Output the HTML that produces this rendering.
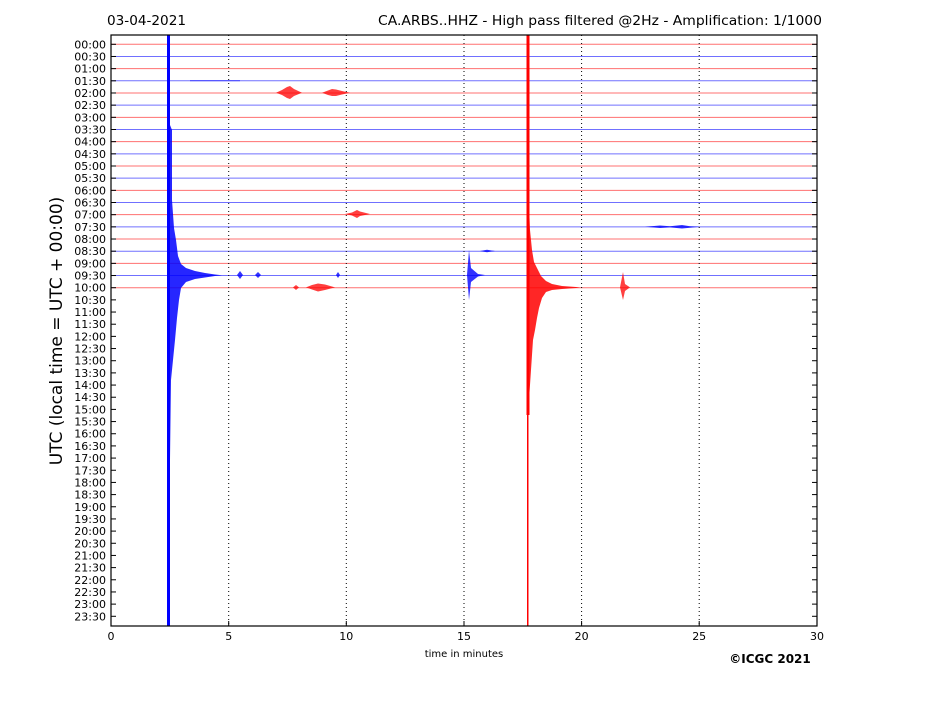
<!DOCTYPE html>
<html><head><meta charset="utf-8"><style>
html,body{margin:0;padding:0;background:#fff;}
svg text{font-family:"DejaVu Sans","Liberation Sans",sans-serif;fill:#000;}
</style></head><body>
<svg width="927" height="696" viewBox="0 0 927 696" xmlns="http://www.w3.org/2000/svg">
<rect width="927" height="696" fill="#fff"/>
<text x="107" y="25" font-size="13" textLength="79" lengthAdjust="spacingAndGlyphs">03-04-2021</text>
<text x="378" y="25" font-size="13.5" textLength="444" lengthAdjust="spacingAndGlyphs">CA.ARBS..HHZ - High pass filtered @2Hz - Amplification: 1/1000</text>
<text transform="translate(62,331) rotate(-90)" font-size="17" text-anchor="middle">UTC (local time = UTC + 00:00)</text>
<g id="rows" stroke-width="1"></g>
<g stroke="#000" stroke-width="1" stroke-dasharray="1,3">
<line x1="228.7" y1="35" x2="228.7" y2="626"/>
<line x1="346.3" y1="35" x2="346.3" y2="626"/>
<line x1="464" y1="35" x2="464" y2="626"/>
<line x1="581.6" y1="35" x2="581.6" y2="626"/>
<line x1="699.2" y1="35" x2="699.2" y2="626"/>
</g>
<g fill="#f00" stroke="none" opacity="0.75">
<polygon points="276,92.7 282,90 287,87 290,86 294,89 302,92.7 294,96 290,99 287,98 282,95"/>
<polygon points="322,92.7 328,90.5 332,89 336,89.5 342,91 350,92.7 342,94.5 336,96 332,96 328,95"/>
<polygon points="345,214 352,212.5 357,210 360,211.5 370,214 360,216 357,218 352,215.5"/>
<polygon points="306,287.4 312,285 318,283.5 325,284.5 335,287.4 325,290 318,291.5 312,289.5"/>
<polygon points="293,287.4 296,285 299,287.4 296,290"/>
<polygon points="620,287.4 623,272 625,284 630,287.4 625,291 623,300"/>
</g>
<g fill="#00f" stroke="none" opacity="0.8">
<rect x="190" y="80" width="50" height="1.3" opacity="0.5"/>
<polygon points="645,226.8 660,225.5 670,226.2 682,225 690,226.2 700,226.8 690,227.8 682,228.5 670,227.4 660,228"/>
<polygon points="480,251 487,249.8 495,251 487,252.2"/>
<polygon points="237,275 240,271 243,275 240,279"/>
<polygon points="255,275 258,272 261,275 258,278"/>
<polygon points="336,275 338,272 340,275 338,278"/>
<polygon points="467,275 469,250 471,268 478,274 485,275 478,276.5 471,282 469,300"/>
</g>
<g fill="#00f">
<rect x="167" y="35" width="3" height="591"/>
<polygon opacity="0.85" points="168,120 172,130 172,200 174,228 176,240 178,256 181,264 186,268 195,271 205,273 215,274.5 222,275.2 215,276 205,277.5 195,279 186,282 181,288 179,300 177,318 175,340 173,360 171,380 170,460 168,460"/>
</g>
<g fill="#f00">
<rect x="526.5" y="35" width="3" height="380"/>
<rect x="527" y="410" width="1.5" height="216"/>
<polygon opacity="0.85" points="528,180 530,230 532,250 534,262 537,268 541,276 546,281 552,284 562,286 576,287 580,287.4 576,288 562,289 552,290 546,292 542,298 539,308 537,318 535,330 533,340 529,400"/>
</g>
<rect x="111" y="35" width="706" height="591" fill="none" stroke="#000" stroke-width="1.2"/>
<g id="ticks" stroke="#000" stroke-width="1"></g>
<g id="ylab" font-size="11" text-anchor="end"></g>
<g font-size="11" text-anchor="middle">
<text x="111" y="640">0</text><text x="228.7" y="640">5</text><text x="346.3" y="640">10</text>
<text x="464" y="640">15</text><text x="581.6" y="640">20</text><text x="699.2" y="640">25</text><text x="817" y="640">30</text>
</g>
<text x="464" y="657" font-size="10" text-anchor="middle">time in minutes</text>
<text x="770" y="663" font-size="12" font-weight="bold" text-anchor="middle" font-family="Liberation Sans,sans-serif">©ICGC 2021</text>
<script>
var ns="http://www.w3.org/2000/svg";
var rows=document.getElementById('rows'),ticks=document.getElementById('ticks'),yl=document.getElementById('ylab');
for(var i=0;i<48;i++){
 var y=44.3+i*12.17;
 if(i<=20){var l=document.createElementNS(ns,'line');l.setAttribute('x1',111);l.setAttribute('x2',817);l.setAttribute('y1',y);l.setAttribute('y2',y);l.setAttribute('stroke',i%2?'#7070ff':'#ff7070');rows.appendChild(l);}
 var t=document.createElementNS(ns,'line');t.setAttribute('x1',111);t.setAttribute('x2',116);t.setAttribute('y1',y);t.setAttribute('y2',y);ticks.appendChild(t);
 var t2=document.createElementNS(ns,'line');t2.setAttribute('x1',812);t2.setAttribute('x2',817);t2.setAttribute('y1',y);t2.setAttribute('y2',y);ticks.appendChild(t2);
 var h=Math.floor(i/2),m=i%2?'30':'00';
 var tx=document.createElementNS(ns,'text');tx.setAttribute('x',106);tx.setAttribute('y',y+4);tx.textContent=(h<10?'0':'')+h+':'+m;yl.appendChild(tx);
}
[228.7,346.3,464,581.6,699.2].forEach(function(x){var t=document.createElementNS(ns,'line');t.setAttribute('x1',x);t.setAttribute('x2',x);t.setAttribute('y1',621);t.setAttribute('y2',626);ticks.appendChild(t);});
</script>
</svg>
</body></html>
